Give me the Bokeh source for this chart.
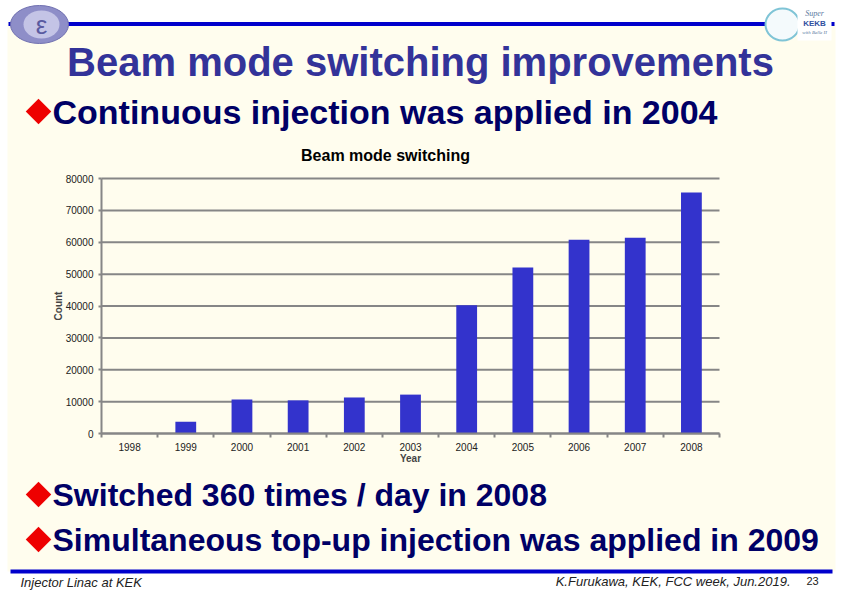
from bokeh.plotting import figure
from bokeh.models import Range1d, FixedTicker, NumeralTickFormatter, LinearAxis
from bokeh.core.properties import value
from bokeh.embed import file_html
from bokeh.resources import INLINE

# ---- data ----
years = [1998, 1999, 2000, 2001, 2002, 2003, 2004, 2005, 2006, 2007, 2008]
counts = [0, 3700, 10700, 10400, 11300, 12200, 40200, 52100, 60800, 61400, 75600]
y_ticks = [0, 10000, 20000, 30000, 40000, 50000, 60000, 70000, 80000]

slide_title = "Beam mode switching improvements"
bullet_texts = ["Continuous injection was applied in 2004",
                "Switched 360 times / day in 2008",
                "Simultaneous top-up injection was applied in 2009"]
chart_title = "Beam mode switching"
footer_left = "Injector Linac at KEK"
footer_right = "K.Furukawa, KEK, FCC week, Jun.2019."
page_no = "23"

# ---- layout constants (page pixels) ----
PG_L, PG_R, PG_T, PG_B = 0, 842, 0, 596
CH_L, CH_R, CH_T, CH_B = 101, 719, 178, 433
X0, X1 = years[0] - 0.5, years[-1] + 0.5
Y0, Y1 = 0, 80000
upx = (X1 - X0) / (CH_R - CH_L)
upy = (Y1 - Y0) / (CH_B - CH_T)
x_range = Range1d(X0 - (CH_L - PG_L) * upx, X1 + (PG_R - CH_R) * upx)
y_range = Range1d(Y0 - (PG_B - CH_B) * upy, Y1 + (CH_T - PG_T) * upy)

CREAM = "#FFFDEE"
BLUE = "#0000CC"
GRAY = "#868686"
FONTNAME = "Liberation Sans"
FONT = value(FONTNAME)

p = figure(width=PG_R - PG_L, height=PG_B - PG_T, x_range=x_range, y_range=y_range,
           x_axis_location=None, y_axis_location=None,
           output_backend="svg", toolbar_location=None, min_border=0)
p.grid.visible = False
p.outline_line_color = None
p.background_fill_color = "white"
p.border_fill_color = "white"
p.extra_x_ranges = {"px": Range1d(PG_L, PG_R)}
p.extra_y_ranges = {"px": Range1d(PG_B, PG_T)}
PX = dict(x_range_name="px", y_range_name="px")


def txt(x, y, s, size, color, style="bold", align="left", font=FONT):
    p.text(x=[x], y=[y], text=[s], text_align=align, text_baseline="middle", text_font=font,
           text_font_style=style, text_font_size=size, text_color=color, **PX)


# ---- slide decoration ----
p.quad(left=[7], right=[835], top=[22], bottom=[571], fill_color=CREAM, line_color=None, **PX)
p.segment(x0=[8], y0=[23.5], x1=[834], y1=[23.5], line_color=BLUE, line_width=4, **PX)
p.segment(x0=[10], y0=[571], x1=[832], y1=[571], line_color=BLUE, line_width=4, **PX)

# left logo (approximation)
p.ellipse(x=[39], y=[24], width=[58], height=[38], fill_color="#8E8EC8", line_color="#7070B0", line_width=1, **PX)
p.ellipse(x=[41], y=[24], width=[36], height=[28], fill_color="#C4C4E6", line_color=None, **PX)
txt(41, 24, "ε", "26px", "#5A5AA0", style="normal", align="center")
# right logo (approximation)
p.ellipse(x=[782], y=[24], width=[34], height=[32], fill_color="#F4FAFC", line_color="#7FC4D6", line_width=2, **PX)
p.quad(left=[797], right=[831], top=[8], bottom=[40], fill_color="white", line_color=None, **PX)
txt(814, 13, "Super", "8px", "#5A7AA0", style="italic", align="center", font=value("Liberation Serif"))
txt(814, 23, "KEKB", "8px", "#3050A0", style="bold", align="center")
txt(814, 32, "with Belle II", "5px", "#5A7AA0", style="italic", align="center", font=value("Liberation Serif"))

txt(420, 61, slide_title, "40px", "#333399", align="center")
bullet_y = [111, 494, 539]
p.scatter(x=[38] * 3, y=bullet_y, marker="square", angle=0.785398, size=18,
          fill_color="#EE0000", line_color=None, **PX)
txt(52, bullet_y[0], bullet_texts[0], "34px", "#000066")
txt(52, bullet_y[1], bullet_texts[1], "32px", "#000066")
txt(52, bullet_y[2], bullet_texts[2], "32px", "#000066")

txt(385, 155, chart_title, "16px", "black", align="center")

txt(20, 582, footer_left, "13px", "#222222", style="italic")
txt(790, 581, footer_right, "13px", "#222222", style="italic", align="right")
txt(812, 580, page_no, "11px", "#222222", style="normal", align="center")

# ---- chart ----
p.segment(x0=[X0] * len(y_ticks), x1=[X1] * len(y_ticks), y0=y_ticks, y1=y_ticks,
          line_color=GRAY, line_width=2)
p.vbar(x=years, top=counts, width=0.37, fill_color="#3333CC", line_color=None)

xa = LinearAxis(fixed_location=Y0, bounds=(X0, X1),
                ticker=FixedTicker(ticks=years, minor_ticks=[y - 0.5 for y in years] + [X1]))
xa.major_label_overrides = {y: str(y) for y in years}
xa.major_tick_out = 0
xa.major_tick_in = 0
xa.minor_tick_out = 4
xa.minor_tick_in = 0
xa.minor_tick_line_color = GRAY
xa.minor_tick_line_width = 2
xa.axis_line_color = GRAY
xa.axis_line_width = 2
xa.major_label_standoff = 5
xa.major_label_text_font = FONTNAME
xa.major_label_text_font_size = "10px"
xa.major_label_text_color = "#222222"
xa.axis_label = "Year"
xa.axis_label_text_font = FONTNAME
xa.axis_label_text_font_style = "bold"
xa.axis_label_text_font_size = "10px"
xa.axis_label_standoff = -1
p.add_layout(xa, "below")

ya = LinearAxis(fixed_location=X0, bounds=(Y0, Y1), ticker=FixedTicker(ticks=y_ticks, minor_ticks=[]),
                formatter=NumeralTickFormatter(format="0"))
ya.major_tick_out = 3
ya.major_tick_in = 0
ya.major_tick_line_color = GRAY
ya.major_tick_line_width = 2
ya.axis_line_color = GRAY
ya.axis_line_width = 2
ya.major_label_standoff = 5
ya.major_label_text_font = FONTNAME
ya.major_label_text_font_size = "10px"
ya.major_label_text_color = "#222222"
ya.axis_label = "Count"
ya.axis_label_text_font = FONTNAME
ya.axis_label_text_font_style = "bold"
ya.axis_label_text_font_size = "10px"
ya.axis_label_standoff = -1
p.add_layout(ya, "left")

open("out.html", "w").write(file_html(p, INLINE))
